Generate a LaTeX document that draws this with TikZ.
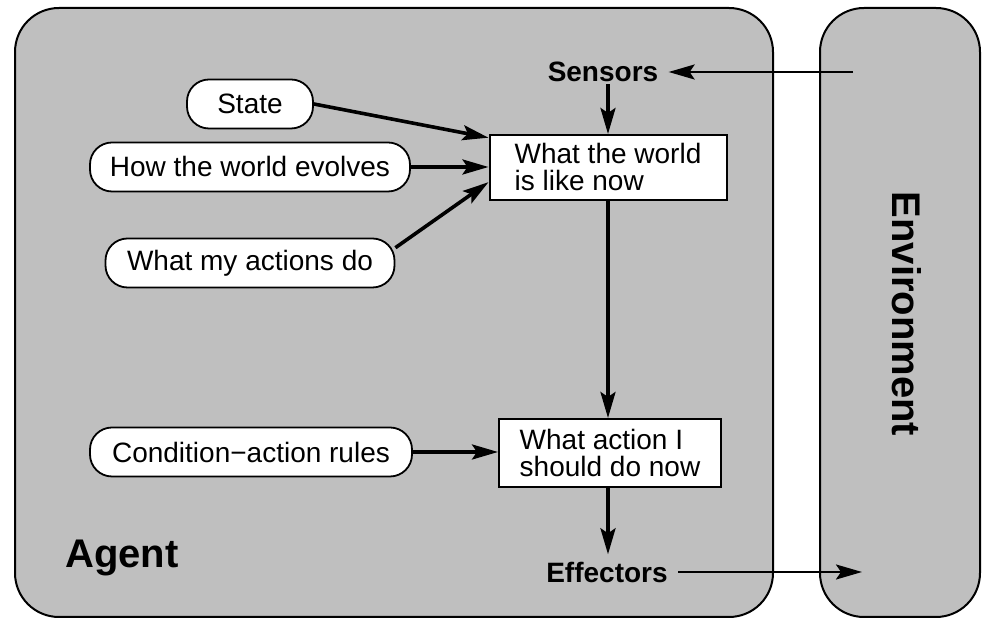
\documentclass[tikz,border=0pt]{standalone}
\usepackage{fontspec}
\setmainfont{Liberation Sans}
\usetikzlibrary{arrows.meta,calc}
\definecolor{panel}{RGB}{191,191,191}
\begin{document}
\begin{tikzpicture}[x=0.5pt,y=-0.5pt,
  panelbox/.style={draw=black,line width=1pt,fill=panel,rounded corners=22pt},
  pill/.style={draw=black,line width=0.9pt,fill=white,rounded corners=11pt,minimum height=24.5pt,inner sep=0pt,font=\fontsize{14}{16}\selectfont},
  rectbox/.style={draw=black,line width=1pt,fill=white,align=left,inner sep=0pt,font=\fontsize{14}{13.5}\selectfont},
  lbl/.style={font=\fontsize{14}{16}\selectfont\bfseries,inner xsep=5pt,inner ysep=1pt},
  biglbl/.style={font=\fontsize{20}{24}\selectfont\bfseries,inner sep=0pt},
  arr/.style={line width=1.8pt,-{Stealth[length=13pt,width=7.5pt,inset=2.5pt]}},
  thinarr/.style={line width=1.2pt,-{Stealth[length=13pt,width=7.5pt,inset=2.5pt]}}]
\useasboundingbox (0,0) rectangle (982,619);
\path[panelbox] (15,8) rectangle (773,617);
\path[panelbox] (820,8) rectangle (980,617);

\node[pill,minimum width=63pt] (state) at (250,104) {State};
\node[pill,minimum width=160pt] (evolves) at (250,167) {How the world evolves};
\node[pill,minimum width=144.5pt] (actions) at (250,263) {What my actions do};
\node[pill,minimum width=161pt] (rules) at (251,452) {Condition−action rules};

\node[rectbox,minimum width=118.5pt,minimum height=32.5pt] (world) at (608,167.5) {What the world\\is like now};
\node[rectbox,minimum width=111pt,minimum height=34pt] (action) at (610,453) {What action I\\should do now};

\node[lbl] (sensors) at (603,72) {Sensors};
\node[lbl,inner ysep=3.5pt] (effectors) at (607,572) {Effectors};
\node[biglbl,anchor=base west] (agent) at (65,568) {Agent};
\node[biglbl,rotate=-90] (env) at (907,314) {Environment};
\coordinate (envin) at (853,72);
\coordinate (envout) at (862,572);

\draw[thinarr] (envin) -- (sensors.east);
\draw[arr] (world.north |- sensors.south) -- (world.north);
\draw[arr] (world.south) -- (world.south |- action.north);
\draw[arr] (action.south -| world.south) -- (world.south |- effectors.north);
\draw[thinarr] (effectors.east) -- (envout);
\draw[arr] (state.east) -- (world.166);
\draw[arr] (evolves.east) -- (evolves.east -| world.west);
\draw[arr] (actions.6) -- (world.187);
\draw[arr] (rules.east) -- (rules.east -| action.west);
\end{tikzpicture}
\end{document}
